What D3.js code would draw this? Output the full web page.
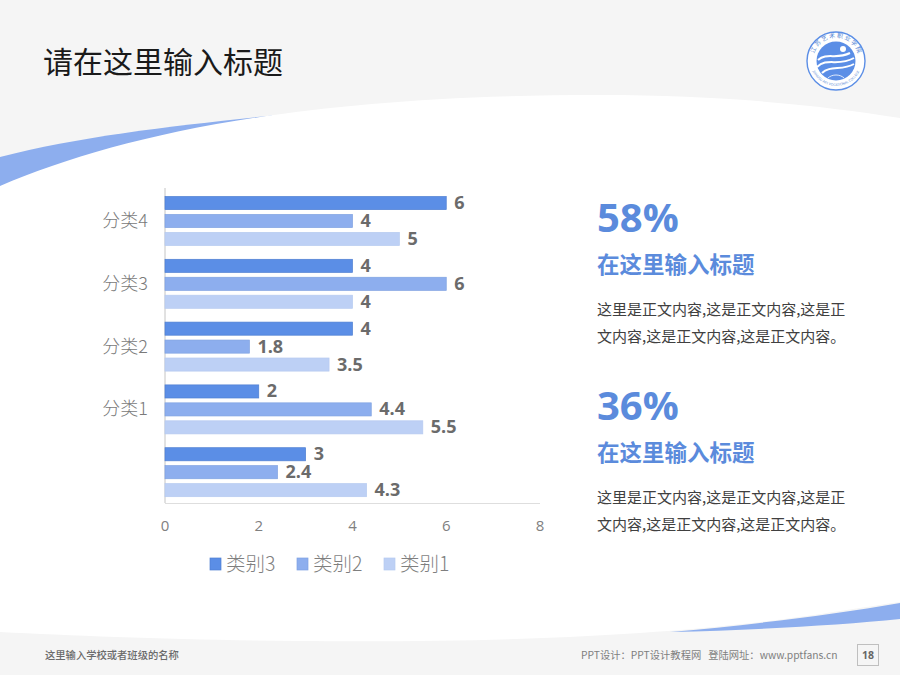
<!DOCTYPE html>
<html>
<head>
<meta charset="utf-8">
<script src="https://cdn.jsdelivr.net/npm/d3@7"></script>
<style>
html, body { margin: 0; padding: 0; background: #fff; }
svg { display: block; }
text { font-family: "Noto Sans CJK SC", "Open Sans", sans-serif; }
.latin { font-family: "Open Sans", "Noto Sans CJK SC", sans-serif; }
</style>
</head>
<body>
<div id="chart"></div>
<script>
// chart values, top category first
const categories = ["分类4", "分类3", "分类2", "分类1", ""];
const seriesNames = ["类别3", "类别2", "类别1"];
const series3 = [6, 4, 4, 2, 3];
const series2 = [4, 6, 1.8, 4.4, 2.4];
const series1 = [5, 4, 3.5, 5.5, 4.3];
const xTicks = [0, 2, 4, 6, 8];
const seriesColors = ["#5b8ee6", "#8daeee", "#bdd0f5"];
const seriesStrokes = ["#4f7fd2", "#7fa2e2", "#b6caf0"];

const svg = d3.select("#chart").append("svg")
    .attr("width", 900)
    .attr("height", 675);

// background and swooshes, the white shape cuts the lower edge of the top one
svg.append("rect").attr("width", 900).attr("height", 675).attr("fill", "#f5f5f5");
svg.append("path").attr("fill", "#8daeee")
    .attr("d", "M0,157 C80,136 180,125 272,115.5 L272,200 L0,200 Z");
svg.append("path").attr("fill", "#fff")
    .attr("d", "M0,186 C120,135 300,95 600,95 C720,95 820,105 900,118 L900,602 C800,616 680,644 300,641 C180,640 80,636 0,632 Z");
svg.append("path").attr("fill", "#8daeee")
    .attr("d", "M900,603 C830,615 750,625 670,632 C760,630 840,625 900,619 Z");

svg.append("text").text("请在这里输入标题")
    .attr("x", 43).attr("y", 73)
    .attr("font-size", 30).attr("fill", "#1a1a1a");

// logo
const logo = svg.append("g").attr("transform", "translate(836,61)");
logo.append("circle").attr("r", 29).attr("fill", "#fff").attr("stroke", "#5b8ee6").attr("stroke-width", 1.4);
logo.append("circle").attr("r", 19.5).attr("fill", "#5b8ee6");
logo.append("circle").attr("cx", 7).attr("cy", -12).attr("r", 3).attr("fill", "#fff");
logo.selectAll(".wave")
    .data(["M-18,-1 C-9,-9 0,-1 14,-8", "M-19,6 C-9,-4 2,6 18,-3", "M-14,12 C-6,4 6,10 18,3"])
    .enter().append("path")
    .attr("d", d => d)
    .attr("fill", "none").attr("stroke", "#fff").attr("stroke-width", 2);
logo.append("path").attr("fill", "none").attr("stroke", "#fff").attr("stroke-width", 0.8)
    .attr("d", "M-8,17 C-4,13 4,13 8,17");
logo.append("path").attr("id", "logoTop").attr("fill", "none").attr("d", "M-21,9 A23,23 0 1 1 21,9");
logo.append("text").attr("font-size", 6).attr("fill", "#4f7fd2")
    .append("textPath").attr("href", "#logoTop").attr("startOffset", "50%").attr("text-anchor", "middle")
    .text("江 苏 艺 术 职 业 学 院");
logo.append("path").attr("id", "logoBottom").attr("fill", "none").attr("d", "M-25.5,4 A26,26 0 0 0 25.5,4");
logo.append("text").attr("class", "latin").attr("font-size", 3.4).attr("fill", "#4f7fd2")
    .append("textPath").attr("href", "#logoBottom").attr("startOffset", "50%").attr("text-anchor", "middle")
    .text("JIANGSU ART VOCATIONAL COLLEGE");

// bar chart
const x = d3.scaleLinear().domain([0, 8]).range([165, 540]);
const y = d3.scaleBand().domain(d3.range(categories.length)).range([189.5, 503.5]);
const groupInner = d3.scaleBand().domain(d3.range(3)).range([7, 56]).paddingInner(0.27);
const allSeries = [series3, series2, series1];

svg.append("line").attr("x1", 165).attr("x2", 165).attr("y1", 188).attr("y2", 503)
    .attr("stroke", "#c4c4c4");
svg.append("line").attr("x1", 165).attr("x2", 540).attr("y1", 503.5).attr("y2", 503.5)
    .attr("stroke", "#dedede");

allSeries.forEach(function(values, s) {
    let g = svg.append("g");
    g.selectAll("rect").data(values).enter().append("rect")
        .attr("x", x(0))
        .attr("y", (d, i) => y(i) + groupInner(s))
        .attr("width", d => x(d) - x(0))
        .attr("height", groupInner.bandwidth())
        .attr("fill", seriesColors[s])
        .attr("stroke", seriesStrokes[s])
        .attr("stroke-width", 0.7);
    g.selectAll("text").data(values).enter().append("text")
        .attr("class", "latin")
        .text(d => d)
        .attr("x", d => x(d) + 8)
        .attr("y", (d, i) => y(i) + groupInner(s) + groupInner.bandwidth() / 2 + 6)
        .attr("font-size", 18)
        .attr("font-weight", 700)
        .attr("fill", "#6b6b6b");
});

svg.append("g").selectAll("text").data(categories).enter().append("text")
    .text(d => d)
    .attr("x", 148)
    .attr("y", (d, i) => y(i) + y.bandwidth() / 2 + 6)
    .attr("text-anchor", "end")
    .attr("font-size", 18)
    .attr("font-weight", 300)
    .attr("fill", "#7a7a7a");

svg.append("g").selectAll("text").data(xTicks).enter().append("text")
    .attr("class", "latin")
    .text(d => d)
    .attr("x", d => x(d))
    .attr("y", 531)
    .attr("text-anchor", "middle")
    .attr("font-size", 15)
    .attr("fill", "#808080");

// legend
const legendX = d3.scaleOrdinal().domain(seriesNames).range([210, 297, 384]);
const legend = svg.append("g").selectAll("g").data(seriesNames).enter().append("g")
    .attr("transform", d => "translate(" + legendX(d) + ",558)");
legend.append("rect").attr("width", 11).attr("height", 12)
    .attr("fill", (d, i) => seriesColors[i])
    .attr("stroke", (d, i) => seriesStrokes[i]).attr("stroke-width", 0.7);
legend.append("text").text(d => d)
    .attr("x", 16).attr("y", 13)
    .attr("font-size", 19.5).attr("font-weight", 300).attr("fill", "#7f7f7f");

// right column
const statValues = ["58%", "36%"];
const statHeading = "在这里输入标题";
const statLines = ["这里是正文内容,这是正文内容,这是正", "文内容,这是正文内容,这是正文内容。"];
const statY = d3.scaleOrdinal().domain(statValues).range([232, 420]);
const blocks = svg.append("g").selectAll("g").data(statValues).enter().append("g")
    .attr("transform", d => "translate(597," + statY(d) + ")");
blocks.append("text").attr("class", "latin").text(d => d)
    .attr("font-size", 40).attr("font-weight", 700).attr("fill", "#5b8bdc");
blocks.append("text").text(statHeading)
    .attr("y", 41).attr("font-size", 22.5).attr("font-weight", 700).attr("fill", "#5b8bdc");
statLines.forEach(function(line, i) {
    blocks.append("text").text(line)
        .attr("y", 83 + i * 27).attr("font-size", 15).attr("fill", "#404040");
});

// footer
svg.append("text").text("这里输入学校或者班级的名称")
    .attr("x", 45).attr("y", 659).attr("font-size", 10.3).attr("font-weight", 500).attr("fill", "#6a6a6a");
svg.append("text").text("PPT设计：PPT设计教程网   登陆网址：www.pptfans.cn")
    .attr("x", 581).attr("y", 659).attr("font-size", 10.3).attr("fill", "#7f7f7f")
    .style("white-space", "pre");
svg.append("rect").attr("x", 857.5).attr("y", 644.5).attr("width", 21).attr("height", 21)
    .attr("fill", "none").attr("stroke", "#bfbfbf");
svg.append("text").attr("class", "latin").text("18")
    .attr("x", 868).attr("y", 659).attr("text-anchor", "middle")
    .attr("font-size", 10.5).attr("font-weight", 700).attr("fill", "#666");
</script>
</body>
</html>
